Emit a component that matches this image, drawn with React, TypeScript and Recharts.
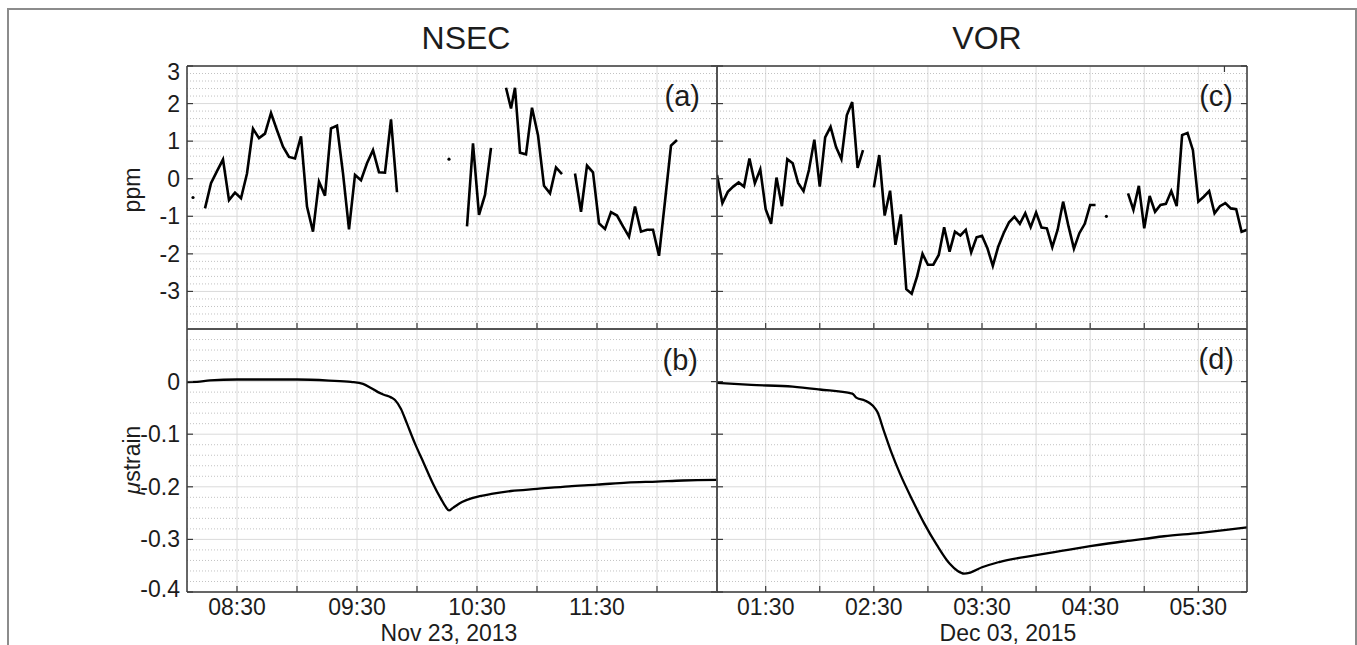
import React from 'react'
import {
  ComposedChart, Line, Scatter, XAxis, YAxis, CartesianGrid, ReferenceLine,
} from 'recharts'

const W = 1357
const H = 645
const FONT = "'Liberation Sans', Arial, Helvetica, sans-serif"
const INK = '#1c1c1c'
const FRAME = '#3a3a3a'

// all times are minutes after midnight of the event day
const nsecTicks = [510, 540, 570, 600, 630, 660, 690, 720]
const vorTicks = [90, 120, 150, 180, 210, 240, 270, 300, 330]
const ppmTicks = [-3, -2, -1, 0, 1, 2, 3]
const strainTicks = [-0.4, -0.3, -0.2, -0.1, 0]

// (a) NSEC ppm, null = data gap
const nsecPpmTime = [
  494, 497, 500, 503, 506, 509, 512, 515, 518, 521, 524, 527, 530, 533, 536, 539, 542,
  545, 548, 551, 554, 557, 560, 563, 566, 569, 572, 575, 578, 581, 584, 587, 590,
  600,
  625, 628, 631, 634, 637,
  641,
  644.5, 647, 649, 651.5, 654.5, 657.5, 660.5, 663.5, 666.5, 669.5, 672.5,
  676,
  679, 682, 685, 688, 691, 694, 697, 700, 703, 706, 709, 712, 715, 718, 721, 724, 727, 730,
]
const nsecPpmValue = [
  -0.79, -0.12, 0.2, 0.51, -0.57, -0.37, -0.52, 0.14, 1.33, 1.08, 1.2, 1.75, 1.29, 0.85, 0.58, 0.54, 1.13,
  -0.74, -1.41, -0.08, -0.45, 1.34, 1.41, 0.14, -1.35, 0.1, -0.04, 0.41, 0.76, 0.17, 0.16, 1.58, -0.36,
  null,
  -1.27, 0.94, -0.96, -0.43, 0.82,
  null,
  2.42, 1.87, 2.42, 0.69, 0.65, 1.89, 1.16, -0.19, -0.39, 0.3, 0.12,
  null,
  0.14, -0.88, 0.35, 0.17, -1.19, -1.34, -0.89, -0.98, -1.27, -1.54, -0.74, -1.41, -1.36, -1.36, -2.05, -0.6, 0.88, 1.03,
]
const nsecDotTime = [488, 616]
const nsecDotValue = [-0.5, 0.52]

// (b) NSEC strain
const nsecStrainTime = [
  485, 490, 496.5, 510, 540, 556, 567, 573, 577, 580.5, 583.5, 587, 589, 592, 595, 599, 603.5,
  608, 612, 614.5, 616, 618, 622.5, 628, 638, 647, 660, 676, 690, 705, 720, 733, 750,
]
const nsecStrainValue = [
  -0.001, -0.0006, 0.0025, 0.004, 0.004, 0.002, -0.0006, -0.0044, -0.012, -0.02, -0.025, -0.03, -0.035,
  -0.052, -0.08, -0.118, -0.156, -0.194, -0.223, -0.239, -0.245, -0.24, -0.229, -0.221, -0.213, -0.208,
  -0.204, -0.199, -0.196, -0.192, -0.19, -0.188, -0.187,
]

// (c) VOR ppm
const vorPpmTime = [
  63, 66, 69, 72, 75, 78, 81, 84, 87, 90, 93, 96, 99, 102, 105, 108, 111, 114, 117, 120, 123, 126, 129,
  132, 135, 138, 141, 144,
  147,
  150, 153, 156, 159, 162, 165, 168, 171, 174, 177, 180, 183, 186, 189, 192, 195, 198, 201, 204, 207,
  210, 213, 216, 219, 222, 225, 228, 231, 234, 237, 240, 243, 246, 249, 252, 255, 258, 261, 264, 267,
  270, 273,
  282,
  291, 294, 297, 300, 303, 306, 309, 312, 315, 318, 321, 324, 327, 330, 333, 336, 339, 342, 345, 348,
  351, 354, 357,
]
const vorPpmValue = [
  0.1, -0.65, -0.35, -0.21, -0.1, -0.21, 0.54, -0.12, 0.25, -0.81, -1.2, 0.03, -0.73, 0.52, 0.41, -0.11,
  -0.33, 0.23, 1.04, -0.21, 1.1, 1.38, 0.85, 0.52, 1.69, 2.04, 0.29, 0.76,
  null,
  -0.23, 0.63, -0.98, -0.32, -1.76, -0.95, -2.94, -3.06, -2.6, -2.0, -2.29, -2.29, -2.03, -1.29, -1.94,
  -1.41, -1.51, -1.36, -1.96, -1.56, -1.52, -1.85, -2.32, -1.81, -1.45, -1.16, -1.01, -1.2, -0.92, -1.29,
  -0.9, -1.3, -1.32, -1.82, -1.35, -0.61, -1.27, -1.86, -1.45, -1.2, -0.7, -0.7,
  null,
  -0.39, -0.83, -0.19, -1.32, -0.46, -0.88, -0.7, -0.67, -0.33, -0.73, 1.16, 1.22, 0.76, -0.61, -0.48,
  -0.33, -0.92, -0.73, -0.65, -0.79, -0.81, -1.41, -1.36,
]
const vorDotTime = [279]
const vorDotValue = [-1.0]

// (d) VOR strain
const vorStrainTime = [
  63, 82, 105, 120, 138, 140.5, 145, 149.5, 152, 155.5, 160, 164.5, 171.5, 178, 185, 192, 196.5, 200,
  203.5, 210, 219.5, 240, 254, 270, 288, 300, 311, 330, 345.5, 357,
]
const vorStrainValue = [
  -0.0025, -0.0063, -0.0095, -0.015, -0.023, -0.031, -0.036, -0.046, -0.058, -0.093, -0.137, -0.175,
  -0.226, -0.27, -0.311, -0.346, -0.36, -0.365, -0.363, -0.353, -0.343, -0.33, -0.322, -0.313, -0.304,
  -0.299, -0.294, -0.288, -0.282, -0.277,
]

type Row = { t: number; v: number | null }
const zip = (ts: number[], vs: (number | null)[]): Row[] => ts.map((t, i) => ({ t, v: vs[i] }))

const minorLines = (lo: number, hi: number, step: number, every: number) => {
  const out: number[] = []
  const n = Math.round((hi - lo) / step)
  for (let i = 1; i < n; i++) {
    if (i % every === 0) continue
    out.push(Number((lo + i * step).toFixed(3)))
  }
  return out
}

const hhmm = (m: number) => {
  const h = Math.floor(m / 60)
  const mm = m % 60
  return `${String(h).padStart(2, '0')}:${String(mm).padStart(2, '0')}`
}

const makeLeftTick = (labels: boolean, top: number, bottom: number) => (props: any) => {
  const { x, y, payload } = props
  const v = payload.value
  const shift = v === top ? 6 : v === bottom ? -3 : 0
  return (
    <g>
      <line x1={x} y1={y} x2={x + 6} y2={y} stroke={FRAME} strokeWidth={1.2} />
      {labels && (
        <text x={x - 7} y={y + 8 + shift} textAnchor="end" fontSize={23} fontFamily={FONT} fill={INK}>
          {String(v)}
        </text>
      )}
    </g>
  )
}

const rightTick = (props: any) => (
  <line x1={props.x - 6} y1={props.y} x2={props.x} y2={props.y} stroke={FRAME} strokeWidth={1.2} />
)

const topTick = (props: any) => (
  <line x1={props.x} y1={props.y} x2={props.x} y2={props.y + 6} stroke={FRAME} strokeWidth={1.2} />
)

const makeBottomTick = (labels: boolean) => (props: any) => {
  const { x, y, payload } = props
  const v = payload.value
  return (
    <g>
      <line x1={x} y1={y} x2={x} y2={y - 6} stroke={FRAME} strokeWidth={1.2} />
      {labels && v % 60 === 30 && (
        <text x={x} y={y + 23} textAnchor="middle" fontSize={23} fontFamily={FONT} fill={INK}>
          {hhmm(v)}
        </text>
      )}
    </g>
  )
}

const dotShape = (props: any) => <circle cx={props.cx} cy={props.cy} r={1.6} fill="#000" />

interface PanelProps {
  rows: Row[]
  dots?: Row[]
  xDomain: [number, number]
  xTicks: number[]
  xLabels: boolean
  yDomain: [number, number]
  yTicks: number[]
  yLabels: boolean
  minor: number[]
  margin: { top: number; right: number; bottom: number; left: number }
  leftWidth: number
  curve: 'linear' | 'monotone'
  lineWidth: number
}

function Panel(p: PanelProps) {
  const axisLine = { stroke: FRAME, strokeWidth: 1.5 }
  return (
    <div style={{ position: 'absolute', left: 0, top: 0 }}>
      <ComposedChart width={W} height={H} data={p.rows} margin={p.margin}>
        <CartesianGrid stroke="#dadada" strokeWidth={1} />
        {p.minor.map(v => (
          <ReferenceLine key={v} y={v} stroke="#c2c2c2" strokeWidth={1} strokeDasharray="1 2" />
        ))}
        <XAxis
          dataKey="t" type="number" domain={p.xDomain} ticks={p.xTicks} interval={0} allowDataOverflow
          height={1} tickSize={0} tickMargin={0} tickLine={false} axisLine={axisLine}
          tick={makeBottomTick(p.xLabels)}
        />
        <XAxis
          xAxisId="top" orientation="top" type="number" domain={p.xDomain} ticks={p.xTicks} interval={0}
          allowDataOverflow height={1} tickSize={0} tickMargin={0} tickLine={false} axisLine={axisLine}
          tick={topTick}
        />
        <YAxis
          type="number" domain={p.yDomain} ticks={p.yTicks} interval={0} allowDataOverflow
          width={p.leftWidth} tickSize={0} tickMargin={0} tickLine={false} axisLine={axisLine}
          tick={makeLeftTick(p.yLabels, p.yDomain[1] === 3 ? 3 : 999, -0.4)}
        />
        <YAxis
          yAxisId="right" orientation="right" type="number" domain={p.yDomain} ticks={p.yTicks} interval={0}
          allowDataOverflow width={1} tickSize={0} tickMargin={0} tickLine={false} axisLine={axisLine}
          tick={rightTick}
        />
        <Line
          dataKey="v" type={p.curve} stroke="#000" strokeWidth={p.lineWidth} dot={false}
          isAnimationActive={false} connectNulls={false}
        />
        {p.dots && (
          <Scatter data={p.dots} dataKey="v" shape={dotShape} isAnimationActive={false} />
        )}
      </ComposedChart>
    </div>
  )
}

const ppmMinor = minorLines(-4, 3, 0.2, 5)
const strainMinor = minorLines(-0.4, 0.1, 0.02, 5)

export default function App() {
  const topLeft = { top: 65, right: 639, bottom: 315, left: 0 }
  const botLeft = { top: 328, right: 639, bottom: 52, left: 0 }
  const topRight = { top: 65, right: 109, bottom: 315, left: 716 }
  const botRight = { top: 328, right: 109, bottom: 52, left: 716 }
  const txt = { fontFamily: FONT, fill: INK }

  return (
    <div style={{ position: 'absolute', left: 0, top: 0, width: W, height: H, overflow: 'hidden', background: '#fff' }}>
      <div style={{ position: 'absolute', left: 7, top: 8, width: 1346, height: 700, border: '2px solid #8c8c8c' }} />

      <Panel
        rows={zip(nsecPpmTime, nsecPpmValue)} dots={zip(nsecDotTime, nsecDotValue)}
        xDomain={[485, 750]} xTicks={nsecTicks} xLabels={false}
        yDomain={[-4, 3]} yTicks={ppmTicks} yLabels minor={ppmMinor}
        margin={topLeft} leftWidth={187} curve="linear" lineWidth={2.6}
      />
      <Panel
        rows={zip(nsecStrainTime, nsecStrainValue)}
        xDomain={[485, 750]} xTicks={nsecTicks} xLabels
        yDomain={[-0.4, 0.1]} yTicks={strainTicks} yLabels minor={strainMinor}
        margin={botLeft} leftWidth={187} curve="monotone" lineWidth={2.3}
      />
      <Panel
        rows={zip(vorPpmTime, vorPpmValue)} dots={zip(vorDotTime, vorDotValue)}
        xDomain={[63, 357]} xTicks={vorTicks} xLabels={false}
        yDomain={[-4, 3]} yTicks={ppmTicks} yLabels={false} minor={ppmMinor}
        margin={topRight} leftWidth={1} curve="linear" lineWidth={2.6}
      />
      <Panel
        rows={zip(vorStrainTime, vorStrainValue)}
        xDomain={[63, 357]} xTicks={vorTicks} xLabels
        yDomain={[-0.4, 0.1]} yTicks={strainTicks} yLabels={false} minor={strainMinor}
        margin={botRight} leftWidth={1} curve="monotone" lineWidth={2.3}
      />

      <svg width={W} height={H} style={{ position: 'absolute', left: 0, top: 0, pointerEvents: 'none' }}>
        <text x={466} y={49} textAnchor="middle" fontSize={32} {...txt}>NSEC</text>
        <text x={987} y={49} textAnchor="middle" fontSize={32} {...txt}>VOR</text>
        <text x={700} y={106} textAnchor="end" fontSize={29} {...txt}>(a)</text>
        <text x={1233} y={106} textAnchor="end" fontSize={29} {...txt}>(c)</text>
        <text x={698} y={370} textAnchor="end" fontSize={29} {...txt}>(b)</text>
        <text x={1234} y={369} textAnchor="end" fontSize={29} {...txt}>(d)</text>
        <text x={140} y={190} transform="rotate(-90 140 190)" textAnchor="middle" fontSize={23} {...txt}>ppm</text>
        <text x={140} y={460} transform="rotate(-90 140 460)" textAnchor="middle" fontSize={23} {...txt}>
          <tspan fontStyle="italic">μ</tspan>strain
        </text>
        <text x={449} y={641} textAnchor="middle" fontSize={23} {...txt}>Nov 23, 2013</text>
        <text x={1008} y={641} textAnchor="middle" fontSize={23} {...txt}>Dec 03, 2015</text>
      </svg>
    </div>
  )
}
